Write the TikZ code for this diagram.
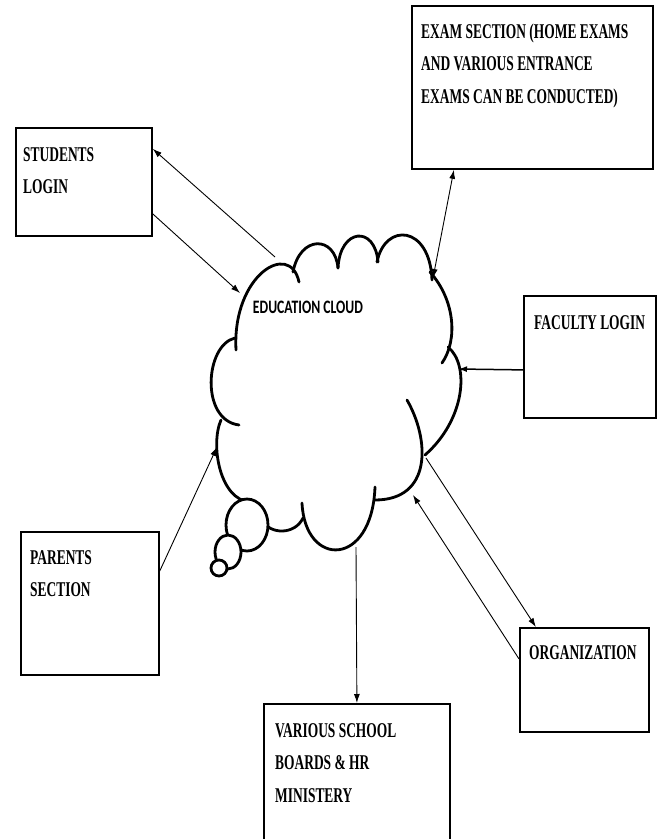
\documentclass[tikz,border=0pt]{standalone}
\usepackage{fontspec}
\setmainfont{Liberation Serif}[FakeStretch=0.64]
\newfontfamily\cloudfont{Carlito}[FakeStretch=0.72]
\usetikzlibrary{arrows.meta,calc}
\newcommand\boxlines[1]{\begin{tabular}[t]{@{}l@{}}#1\end{tabular}}
\begin{document}
\begin{tikzpicture}[x=1pt,y=-1pt,
  box/.style={draw=black,line width=1.8pt,fill=white,anchor=north west,inner sep=0pt},
  lbl/.style={anchor=base west,inner sep=0pt,font=\bfseries\fontsize{21}{32.5}\selectfont},
  cl/.style={line width=2.8pt,line cap=round},
  bub/.style={line width=2.8pt,fill=white},
  arr/.style={line width=0.9pt,-{Latex[length=9pt,width=6pt]}},
  darr/.style={line width=0.9pt,{Latex[length=9pt,width=6pt]}-{Latex[length=9pt,width=6pt]}}]
\useasboundingbox (0,0) rectangle (660,839);

% boxes
\node[box,minimum width=136pt,minimum height=108pt] (stud) at (15,127) {};
\node[box,minimum width=241pt,minimum height=163pt] (exam) at (411,5) {};
\node[box,minimum width=132pt,minimum height=122pt] (fac) at (523,295) {};
\node[box,minimum width=138pt,minimum height=143pt] (par) at (20,531) {};
\node[box,minimum width=186pt,minimum height=136pt] (var) at (263,703) {};
\node[box,minimum width=129pt,minimum height=104pt] (org) at (519,627) {};

% labels
\node[lbl] (studtxt) at (23,161) {\boxlines{STUDENTS\\LOGIN}};
\node[lbl] (examtxt) at (421,38) {\boxlines{EXAM SECTION (HOME EXAMS\\AND VARIOUS ENTRANCE\\EXAMS CAN BE CONDUCTED)}};
\node[lbl] (factxt) at (534,329) {FACULTY LOGIN};
\node[lbl] (partxt) at (30,564) {\boxlines{PARENTS\\SECTION}};
\node[lbl] (vartxt) at (275,737) {\boxlines{VARIOUS SCHOOL\\BOARDS \& HR\\MINISTERY}};
\node[lbl] (orgtxt) at (529,659) {ORGANIZATION};

% cloud
\draw[cl] (236,350) .. controls (232,275) and (290,240) .. (299,282);
\draw[cl] (293,272) .. controls (300,235) and (335,235) .. (338,268);
\draw[cl] (338,268) .. controls (340,228) and (375,225) .. (378,262);
\draw[cl] (377,262) .. controls (385,222) and (430,225) .. (432,280);
\draw[cl] (430,272) .. controls (455,300) and (458,340) .. (442,363);
\draw[cl] (448,347) .. controls (470,365) and (465,420) .. (425,455);
\draw[cl] (407,400) .. controls (430,440) and (432,500) .. (375,500);
\draw[cl] (375,487) .. controls (372,568) and (305,568) .. (302,503);
\draw[cl] (303,518) .. controls (295,535) and (270,535) .. (262,520);
\draw[cl] (250,502) .. controls (220,500) and (210,445) .. (221,420);
\draw[cl] (235,338) .. controls (205,345) and (200,420) .. (239,425);
\draw[bub] (247,525) ellipse [x radius=21pt,y radius=26pt];
\draw[bub] (228,552) ellipse [x radius=13pt,y radius=17pt];
\draw[bub] (219,568) circle [radius=8pt];
\node[inner sep=0pt,font=\cloudfont\bfseries\fontsize{19}{22}\selectfont] (cloudtxt) at (308,307) {EDUCATION CLOUD};

% cloud attachment points
\coordinate (cS1) at (275,257);
\coordinate (cS2) at (240,293);
\coordinate (cE) at (433,278);
\coordinate (cF) at (458,369);
\coordinate (cP) at (217,447);
\coordinate (cV) at (356,547);
\coordinate (cO1) at (426,458);
\coordinate (cO2) at (413,495);

% connectors
\draw[arr] (cS1) -- ([yshift=33pt]stud.east);
\draw[arr] ([yshift=-32pt]stud.east) -- (cS2);
\draw[darr] ([xshift=-78.5pt]exam.south) -- (cE);
\draw[arr,line width=1.5pt] ([yshift=-13pt]fac.west) -- (cF);
\draw[arr] ([yshift=32.5pt]par.east) -- (cP);
\draw[arr] (cV) -- (var.north);
\draw[arr] (cO1) -- ([xshift=-48.5pt]org.north);
\draw[arr] ([yshift=21pt]org.west) -- (cO2);
\end{tikzpicture}
\end{document}
